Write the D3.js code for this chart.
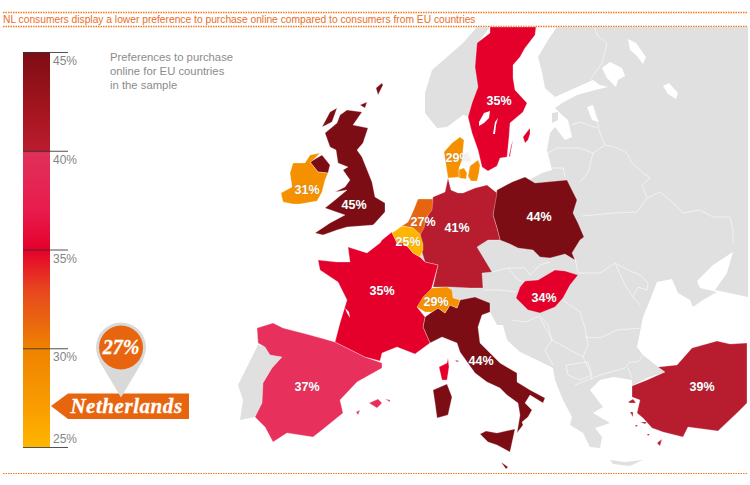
<!DOCTYPE html>
<html>
<head>
<meta charset="utf-8">
<script src="https://cdn.jsdelivr.net/npm/d3@7"></script>
<style>
  html, body { margin: 0; padding: 0; background: #fff; }
  svg { display: block; font-family: "Liberation Sans", Arial, sans-serif; }
</style>
</head>
<body>
<svg width="750" height="485"></svg>
<script>
// values
const countries = ["UK", "Poland", "Italy", "Germany", "Turkey", "Spain", "France", "Sweden", "Hungary", "Ireland", "Switzerland", "Denmark", "Netherlands", "Belgium"];
const values = [45, 44, 44, 41, 39, 37, 35, 35, 34, 31, 29, 29, 27, 25];
const labelAt = [[354, 204], [539, 216], [481, 360], [457, 227], [702, 386], [307, 386], [382, 290], [499, 100], [544, 297], [307, 189], [436, 301], [458, 157], [423, 221], [408, 241]];
const scaleTicks = [25, 30, 35, 40, 45];
const titleText = "NL consumers display a lower preference to purchase online compared to consumers from EU countries";
const legendLines = ["Preferences to purchase", "online for EU countries", "in the sample"];
const highlight = { name: "Netherlands", value: 27 };

// gradient of the scale bar, value -> colour
const gradValues = [25, 27, 30, 31, 33, 35, 37, 39.9, 40, 42, 45];
const gradColors = ["#ffb600", "#f99d00", "#ef8200", "#ea6d0c", "#e8451f", "#e4002b", "#e81c4d", "#e0305a", "#bb1c30", "#a5151f", "#7d0d14"];

// outlines in map units
const outlines = {
  UK: [
    [[347,110],[362,112],[353,125],[368,128],[363,143],[357,150],[362,157],[372,182],[375,197],[385,203],[385,212],[375,223],[373,225],[347,227],[337,230],[323,235],[315,233],[330,223],[345,215],[325,208],[335,200],[347,190],[335,192],[345,187],[350,180],[343,170],[348,167],[338,163],[336,150],[330,147],[325,133],[337,123],[340,115]],
    [[322,127],[330,112],[337,108],[332,122]],
    [[360,105],[367,102],[365,108]],
    [[376,88],[382,83],[383,85],[378,95]],
    [[310,162],[322,155],[330,165],[328,173],[318,172]]
  ],
  Poland: [[[497,190],[512,182],[525,177],[535,183],[567,180],[577,200],[573,213],[578,223],[584,237],[580,240],[572,253],[575,260],[565,254],[550,258],[540,257],[533,250],[518,248],[510,244],[500,240],[497,228],[493,215],[495,200]]],
  Italy: [
    [[425,317],[432,312],[438,308],[445,313],[450,305],[457,308],[460,300],[475,297],[490,303],[490,312],[482,315],[478,327],[480,343],[500,363],[517,373],[517,382],[530,390],[545,398],[543,403],[530,395],[525,403],[532,410],[528,417],[522,422],[523,425],[517,433],[518,427],[520,415],[518,403],[507,395],[500,388],[487,382],[475,373],[460,352],[457,343],[442,337],[430,343],[423,327]],
    [[480,434],[486,431],[497,433],[515,429],[510,452],[497,445],[488,442]],
    [[433,390],[447,384],[452,397],[448,415],[437,418],[435,403]],
    [[455,360],[459,361],[457,362]],
    [[501,462],[508,467],[506,469]]
  ],
  Germany: [[[448,178],[451,190],[458,193],[463,193],[475,188],[487,185],[497,193],[493,215],[497,228],[500,240],[488,240],[477,247],[492,272],[482,273],[483,288],[470,288],[450,287],[433,287],[438,265],[425,262],[422,252],[417,237],[423,227],[430,210],[433,197],[445,192]]],
  Turkey: [
    [[658,367],[677,365],[692,348],[717,341],[730,344],[747,343],[747,403],[737,413],[718,431],[688,427],[683,437],[663,432],[652,428],[643,418],[637,413],[640,400],[632,397],[632,386],[647,380],[665,372]],
    [[628,402],[633,399],[636,403],[630,403]],
    [[630,412],[633,412],[633,417]],
    [[640,422],[647,422],[645,424]],
    [[635,425],[638,425],[636,427]],
    [[647,434],[650,434],[648,436]],
    [[657,443],[662,439],[660,446]]
  ],
  Spain: [
    [[257,328],[273,323],[283,328],[310,335],[335,342],[365,357],[382,363],[382,368],[357,382],[340,400],[343,413],[322,430],[313,437],[287,433],[273,442],[265,427],[255,417],[262,403],[263,383],[272,368],[282,357],[270,355],[265,347],[258,343]],
    [[369,403],[378,399],[382,403],[377,408]],
    [[385,399],[390,400],[390,402]],
    [[356,412],[360,410],[358,415]]
  ],
  France: [
    [[318,260],[337,262],[350,262],[348,247],[367,253],[380,243],[382,240],[392,232],[397,243],[403,243],[408,247],[413,253],[420,257],[425,262],[438,265],[432,287],[425,305],[417,307],[425,317],[423,327],[430,343],[415,354],[397,347],[382,353],[380,361],[365,357],[335,342],[340,323],[347,300],[338,282],[320,270]],
    [[439,367],[447,363],[448,358],[449,367],[447,380],[442,380]]
  ],
  Sweden: [
    [[490,27],[536,27],[535,35],[525,48],[520,57],[513,65],[513,78],[515,90],[527,103],[523,112],[510,123],[509,137],[507,157],[500,158],[497,166],[488,171],[482,167],[478,150],[472,133],[468,117],[472,103],[478,87],[475,67],[477,43],[490,33]],
    [[530,128],[526,133],[523,137],[525,143],[528,140],[530,134]],
    [[513,140],[511,150],[510,157],[509,156],[511,146]]
  ],
  Hungary: [[[525,281],[538,280],[555,270],[565,271],[578,275],[570,285],[563,298],[555,307],[540,313],[528,310],[516,298],[520,287]]],
  Ireland: [[[305,163],[310,155],[320,153],[311,162],[310,162],[318,172],[328,173],[325,180],[322,192],[317,201],[300,204],[293,204],[283,202],[281,193],[292,187],[290,173],[293,163]]],
  Switzerland: [[[417,307],[423,297],[432,288],[447,287],[452,290],[453,298],[460,300],[457,308],[450,305],[445,313],[438,308],[432,312],[425,312]]],
  Denmark: [
    [[444,152],[452,143],[460,137],[464,140],[463,150],[462,160],[459,168],[460,177],[448,178],[446,165]],
    [[470,166],[478,160],[480,165],[479,173],[477,181],[471,181],[468,176]],
    [[458,170],[464,168],[467,173],[466,179],[459,178]]
  ],
  Netherlands: [[[418,199],[433,199],[432,210],[426,218],[424,228],[420,235],[413,228],[402,226],[408,222],[411,216],[414,209]]],
  Belgium: [[[392,233],[402,226],[413,228],[420,234],[423,244],[423,250],[420,257],[413,253],[408,247],[403,243],[397,243]]]
};

const greyLand = [
  // Norway
  [[490,27],[477,27],[463,43],[447,57],[432,70],[425,93],[425,113],[437,128],[447,127],[463,115],[470,117],[478,87],[480,40]],
  // Finland, Russia and the mainland east of the coloured countries
  [[557,27],[548,40],[538,57],[542,72],[545,88],[555,97],[575,88],[593,80],[600,85],[608,87],[595,90],[577,95],[562,103],[555,108],[562,115],[568,120],[572,137],[565,140],[555,127],[550,133],[547,150],[552,170],[542,173],[510,190],[470,200],[440,280],[440,305],[490,312],[497,325],[503,325],[507,340],[520,352],[537,360],[553,368],[555,380],[563,400],[572,417],[570,425],[583,433],[590,447],[600,448],[602,437],[595,428],[610,423],[593,413],[603,407],[590,390],[600,380],[613,377],[632,380],[632,386],[647,378],[665,372],[657,366],[643,355],[637,347],[643,317],[650,300],[657,282],[672,279],[678,293],[690,300],[693,307],[703,300],[717,292],[700,288],[697,281],[713,265],[733,252],[727,273],[715,290],[748,297],[748,27]],
  // Portugal
  [[258,345],[267,347],[270,355],[282,357],[272,368],[263,383],[262,403],[255,417],[240,420],[243,400],[238,385],[248,365]],
  // Crete
  [[610,460],[625,462],[643,460],[630,466],[613,464]],
  // Luxembourg
  [[420,251],[424,252],[425,261],[421,258]]
];

// lakes and sea inlets, cut out in white
const water = [
  [[610,62],[622,68],[625,76],[618,80],[616,87],[607,78],[602,68]],
  [[628,39],[636,43],[646,57],[643,64],[636,55],[630,50]],
  [[663,86],[669,83],[678,93],[676,99],[668,94]],
  [[587,107],[593,105],[597,118],[599,122],[592,120]],
  [[490,111],[484,113],[479,122],[479,126],[484,123],[489,118]],
  [[498,118],[496,125],[495,134],[493,134],[495,122]],
  [[345,308],[349,312],[350,318],[347,313]],
  [[601,411],[610,417],[607,419]]
];

// grey island in the Gulf of Riga
const islands = [[[552,113],[558,112],[558,120],[552,123]]];

const borders = [
  [[595,28],[597,35],[607,43],[602,63],[590,80]],
  [[572,125],[580,122],[597,128]],
  [[597,122],[600,133],[605,145]],
  [[548,153],[557,148],[580,148],[593,153],[605,145]],
  [[593,153],[588,173],[580,182]],
  [[552,168],[563,168],[565,177]],
  [[605,145],[615,147],[627,153],[632,163],[643,173],[650,178],[642,185],[647,198]],
  [[582,216],[613,213],[637,212],[647,198],[660,192],[670,200],[683,213],[700,210],[713,217],[730,217],[733,230],[733,243]],
  [[575,258],[578,273],[600,273],[615,263],[628,270],[640,275],[648,283],[647,290],[638,287],[633,297],[640,305]],
  [[615,263],[625,285],[633,297]],
  [[585,337],[600,338],[617,330],[642,328]],
  [[563,300],[580,312],[585,328],[588,345],[583,357]],
  [[512,320],[525,322],[540,316],[548,325],[552,340],[545,350],[553,365]],
  [[540,318],[552,340],[583,357],[590,372],[592,380]],
  [[566,365],[588,362],[592,375],[580,380],[568,375],[566,365]],
  [[575,385],[600,375],[625,368],[630,362],[638,362],[643,355]],
  [[628,368],[632,378]],
  [[508,268],[525,268],[530,275],[540,265],[550,262]],
  [[492,272],[508,268],[518,280],[525,282]],
  [[483,290],[500,290],[516,292]]
];

const svg = d3.select("svg");

// header and footer rules
const ruleColor = "#f07a22";
[[12.5, 1.5], [26.5, 1.5], [473.5, 1]].forEach(r => {
  svg.append("line")
    .attr("x1", 3).attr("x2", 748)
    .attr("y1", r[0]).attr("y2", r[0])
    .attr("stroke", ruleColor)
    .attr("stroke-width", r[1])
    .attr("stroke-dasharray", "1.5 1");
});

svg.append("text")
  .attr("x", 3).attr("y", 22.5)
  .attr("font-size", 10.25)
  .attr("fill", "#e96d1f")
  .text(titleText);

// map
const path = d3.geoPath(d3.geoIdentity());
const poly = rings => ({ type: "MultiPolygon", coordinates: rings.map(r => [r.concat([r[0]])]) });
const color = d3.scaleThreshold()
  .domain([26, 28, 32, 36, 38, 42])
  .range(["#ffb600", "#e8650f", "#f59100", "#e4002b", "#e8305c", "#b71c2f", "#7d0d14"]);

const map = svg.append("g");

map.append("path")
  .attr("d", path(poly(greyLand)))
  .attr("fill", "#e0e0e0");

map.append("path")
  .attr("d", path(poly(water)))
  .attr("fill", "#fff");

map.append("path")
  .attr("d", path(poly(islands)))
  .attr("fill", "#e0e0e0");

map.selectAll(".border")
  .data(borders)
  .enter().append("path")
  .attr("class", "border")
  .attr("d", d => path({ type: "LineString", coordinates: d }))
  .attr("fill", "none")
  .attr("stroke", "#f2f2f2")
  .attr("stroke-width", 1);

map.selectAll(".country")
  .data(countries)
  .enter().append("path")
  .attr("class", "country")
  .attr("d", d => path(poly(outlines[d])))
  .attr("fill", (d, i) => color(values[i]))
  .attr("stroke", "#fff")
  .attr("stroke-opacity", 0.55)
  .attr("stroke-width", 0.5);

// lakes again, Sweden sits on top of them
map.append("path")
  .attr("d", path(poly(water.slice(4, 7))))
  .attr("fill", "#fff");

map.selectAll(".pct")
  .data(countries)
  .enter().append("text")
  .attr("class", "pct")
  .attr("x", (d, i) => labelAt[i][0])
  .attr("y", (d, i) => labelAt[i][1])
  .attr("dy", "0.36em")
  .attr("text-anchor", "middle")
  .attr("font-size", 12.5)
  .attr("font-weight", "bold")
  .attr("fill", "#fff")
  .style("text-shadow", "0 0 1px rgba(90,90,90,.45)")
  .text((d, i) => values[i] + "%");

// scale bar
const y = d3.scaleLinear().domain([25, 45]).range([447, 52]);

const grad = svg.append("defs").append("linearGradient")
  .attr("id", "barGrad")
  .attr("x1", 0).attr("x2", 0).attr("y1", 1).attr("y2", 0);

grad.selectAll("stop")
  .data(gradValues)
  .enter().append("stop")
  .attr("offset", d => (d - 25) / 20)
  .attr("stop-color", (d, i) => gradColors[i]);

svg.append("rect")
  .attr("x", 23).attr("y", y(45))
  .attr("width", 27).attr("height", y(25) - y(45))
  .attr("fill", "url(#barGrad)");

const axis = svg.append("g")
  .attr("transform", "translate(23,0)")
  .call(d3.axisRight(y).tickValues(scaleTicks).tickSize(45).tickFormat(d => d + "%"));

axis.select(".domain").remove();
axis.selectAll("line").attr("stroke", "#333").attr("stroke-opacity", 0.85);
axis.selectAll("text")
  .attr("x", 30)
  .attr("dy", "1.05em")
  .attr("font-size", 12)
  .attr("font-family", "Liberation Sans")
  .attr("fill", "#858585");
axis.selectAll(".tick").filter(d => d === 25).select("text").attr("dy", "-0.35em");

svg.selectAll(".legendLine")
  .data(legendLines)
  .enter().append("text")
  .attr("class", "legendLine")
  .attr("x", 110)
  .attr("y", (d, i) => 61 + i * 14)
  .attr("font-size", 11.3)
  .attr("fill", "#8c8c8c")
  .text(d => d);

// Netherlands marker
const my = y(highlight.value);
const orange = "#e8650f";
svg.append("path")
  .attr("d", d3.line()([[68, my - 14], [189, my - 14], [189, my + 11.5], [68, my + 11.5], [51, my - 1.5]]) + "Z")
  .attr("fill", orange);

const pinX = 121, pinY = my - 60;
svg.append("path")
  .attr("d", d3.line()([[pinX - 22, pinY + 13], [pinX, pinY + 50], [pinX + 22, pinY + 13]]) + "Z")
  .attr("fill", "#d9d9d9");
svg.append("circle").attr("cx", pinX).attr("cy", pinY).attr("r", 25).attr("fill", "#d9d9d9");
svg.append("circle").attr("cx", pinX).attr("cy", pinY).attr("r", 22).attr("fill", orange);

svg.append("text")
  .attr("x", pinX).attr("y", pinY + 6.5)
  .attr("text-anchor", "middle")
  .attr("font-family", "Liberation Serif")
  .attr("font-weight", "bold")
  .attr("font-style", "italic")
  .attr("font-size", 20)
  .attr("stroke", "#fff")
  .attr("stroke-width", 0.3)
  .attr("fill", "#fff")
  .text(highlight.value + "%");

svg.append("text")
  .attr("x", 126.5).attr("y", my + 5)
  .attr("text-anchor", "middle")
  .attr("font-family", "Liberation Serif")
  .attr("font-weight", "bold")
  .attr("font-style", "italic")
  .attr("font-size", 21)
  .attr("letter-spacing", 0.55)
  .attr("stroke", "#fff")
  .attr("stroke-width", 0.3)
  .attr("fill", "#fff")
  .text(highlight.name);
</script>
</body>
</html>
